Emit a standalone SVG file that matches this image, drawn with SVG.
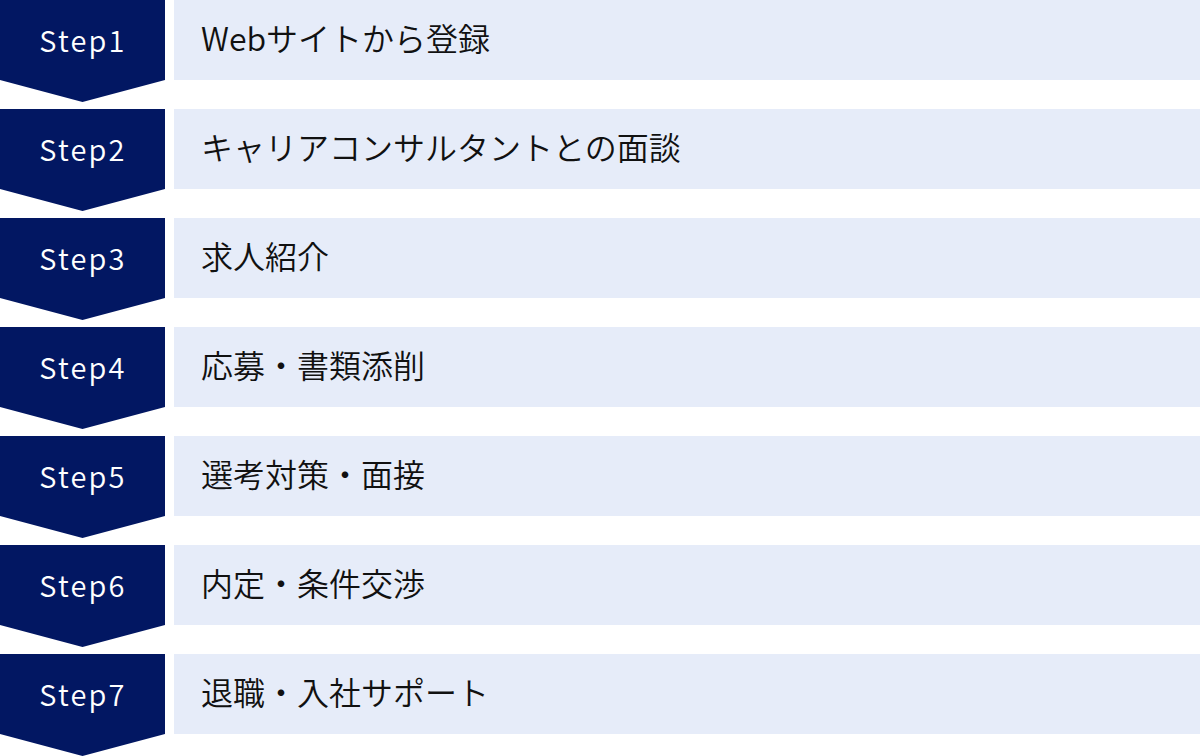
<svg xmlns="http://www.w3.org/2000/svg" width="1200" height="756" viewBox="0 0 1200 756">
<style>
.chev{fill:#021762}
.box{fill:#E6ECF9}
.step{font-family:"Noto Sans CJK JP","Noto Sans",sans-serif;font-size:29px;font-weight:350;fill:#ffffff;letter-spacing:2.2px;text-anchor:middle}
.lbl{font-family:"Noto Sans CJK JP","Noto Sans",sans-serif;font-size:32px;font-weight:350;fill:#111111}
</style>
<defs>
<path id="chevron" d="M0 0H165V80L82.5 102L0 80Z"/>
</defs>
<rect width="1200" height="756" fill="#ffffff"/>
<g id="step1" transform="translate(0,0)">
<use href="#chevron" class="chev"/><rect class="box" x="174" y="0" width="1026" height="80"/>
<text class="step" x="83" y="52">Step1</text><text class="lbl" x="201" y="51">Webサイトから登録</text>
</g>
<g id="step2" transform="translate(0,109)">
<use href="#chevron" class="chev"/><rect class="box" x="174" y="0" width="1026" height="80"/>
<text class="step" x="83" y="52">Step2</text><text class="lbl" x="201" y="51">キャリアコンサルタントとの面談</text>
</g>
<g id="step3" transform="translate(0,218)">
<use href="#chevron" class="chev"/><rect class="box" x="174" y="0" width="1026" height="80"/>
<text class="step" x="83" y="52">Step3</text><text class="lbl" x="201" y="51">求人紹介</text>
</g>
<g id="step4" transform="translate(0,327)">
<use href="#chevron" class="chev"/><rect class="box" x="174" y="0" width="1026" height="80"/>
<text class="step" x="83" y="52">Step4</text><text class="lbl" x="201" y="51">応募・書類添削</text>
</g>
<g id="step5" transform="translate(0,436)">
<use href="#chevron" class="chev"/><rect class="box" x="174" y="0" width="1026" height="80"/>
<text class="step" x="83" y="52">Step5</text><text class="lbl" x="201" y="51">選考対策・面接</text>
</g>
<g id="step6" transform="translate(0,545)">
<use href="#chevron" class="chev"/><rect class="box" x="174" y="0" width="1026" height="80"/>
<text class="step" x="83" y="52">Step6</text><text class="lbl" x="201" y="51">内定・条件交渉</text>
</g>
<g id="step7" transform="translate(0,654)">
<use href="#chevron" class="chev"/><rect class="box" x="174" y="0" width="1026" height="80"/>
<text class="step" x="83" y="52">Step7</text><text class="lbl" x="201" y="51">退職・入社サポート</text>
</g>
<g id="connectors"/>
</svg>
